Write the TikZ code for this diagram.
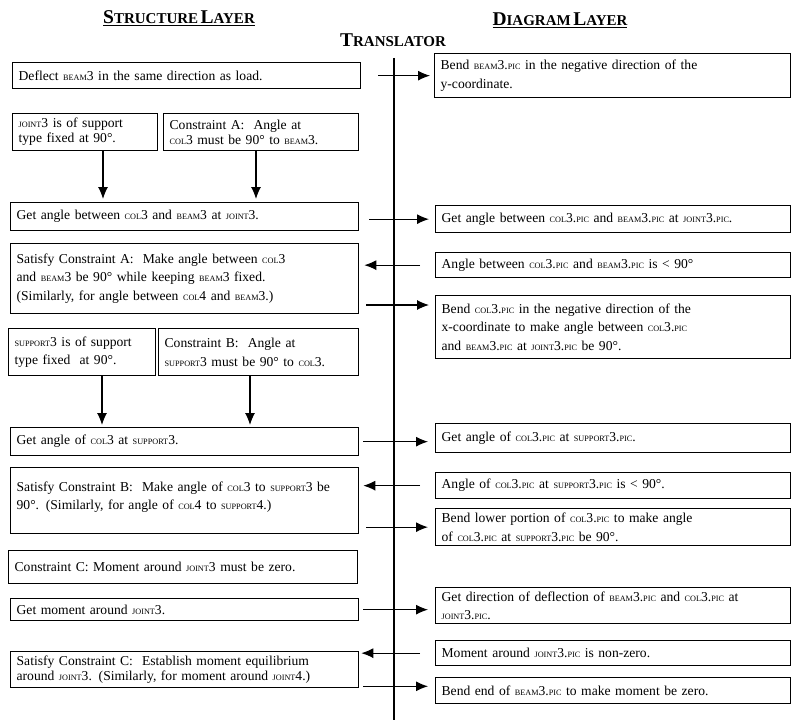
\documentclass[tikz,border=0pt]{standalone}
\usepackage{fontspec}
\setmainfont{Liberation Serif}
\usetikzlibrary{arrows.meta}
\newcommand\sk[1]{{\fontsize{8.2}{9}\selectfont #1}}
\newcommand\hsc[2]{{\fontsize{19.5}{19.5}\selectfont #1}{\fontsize{15}{15}\selectfont #2}}
\tikzset{
  box/.style={draw, line width=1.3pt, inner xsep=5pt, inner ysep=1pt, align=left, anchor=north west,
    font=\fontsize{13.6}{18.5}\selectfont},
  tight/.style={font=\fontsize{13.6}{15}\selectfont},
  head/.style={font=\bfseries, inner sep=0pt},
  arr/.style={line width=1.1pt, -{Latex[length=12pt,width=10pt]}},
  vline/.style={line width=1.1pt},
}
\begin{document}
\begin{tikzpicture}[x=1pt,y=-1pt]
\useasboundingbox (0,0) rectangle (797,725);
% headings
\node[head] (hs) at (179,18) {\underline{\hsc{S}{TRUCTURE} \hsc{L}{AYER}}};
\node[head] (ht) at (393,40) {\hsc{T}{RANSLATOR}};
\node[head] (hd) at (560,20) {\underline{\hsc{D}{IAGRAM} \hsc{L}{AYER}}};
% translator line
\coordinate (vt) at (394,58);
\coordinate (vb) at (394,720);
\draw[vline] (vt) -- (vb);
% boxes
\node[box, minimum width=348pt, minimum height=26pt, text width=336pt] (b1) at (12,62)
  {Deflect \sk{BEAM}3 in the same direction as load.};
\node[box, minimum width=356pt, minimum height=44pt, text width=344pt] (b2) at (434,53)
  {Bend \sk{BEAM}3.\sk{PIC} in the negative direction of the\\y-coordinate.};
\node[box, tight, minimum width=145pt, minimum height=37pt, text width=133pt] (b3) at (12,113)
  {\sk{JOINT}3 is of support\\type fixed at 90°.};
\node[box, tight, minimum width=195pt, minimum height=37pt, text width=183pt] (b4) at (163,113)
  {Constraint A:\ \ Angle at\\\sk{COL}3 must be 90° to \sk{BEAM}3.};
\node[box, minimum width=348pt, minimum height=28pt, text width=336pt] (b5) at (10,202)
  {Get angle between \sk{COL}3 and \sk{BEAM}3 at \sk{JOINT}3.};
\node[box, minimum width=355pt, minimum height=27pt, text width=343pt] (b6) at (435,205)
  {Get angle between \sk{COL}3.\sk{PIC} and \sk{BEAM}3.\sk{PIC} at \sk{JOINT}3.\sk{PIC}.};
\node[box, minimum width=348pt, minimum height=70pt, text width=336pt] (b7) at (10,243)
  {Satisfy Constraint A:\ \ Make angle between \sk{COL}3\\and \sk{BEAM}3 be 90° while keeping \sk{BEAM}3 fixed.\\(Similarly, for angle between \sk{COL}4 and \sk{BEAM}3.)};
\node[box, minimum width=355pt, minimum height=25pt, text width=343pt] (b8) at (435,252)
  {Angle between \sk{COL}3.\sk{PIC} and \sk{BEAM}3.\sk{PIC} is < 90°};
\node[box, minimum width=355pt, minimum height=63pt, text width=343pt] (b9) at (435,295)
  {Bend \sk{COL}3.\sk{PIC} in the negative direction of the\\x-coordinate to make angle between \sk{COL}3.\sk{PIC}\\and \sk{BEAM}3.\sk{PIC} at \sk{JOINT}3.\sk{PIC} be 90°.};
\node[box, minimum width=147pt, minimum height=47pt, text width=135pt] (b10) at (8,328)
  {\sk{SUPPORT}3 is of support\\type fixed\ \ at 90°.};
\node[box, minimum width=200pt, minimum height=47pt, text width=188pt] (b11) at (158,328)
  {Constraint B:\ \ Angle at\\\sk{SUPPORT}3 must be 90° to \sk{COL}3.};
\node[box, minimum width=348pt, minimum height=28pt, text width=336pt] (b12) at (10,427)
  {Get angle of \sk{COL}3 at \sk{SUPPORT}3.};
\node[box, minimum width=355pt, minimum height=29pt, text width=343pt] (b13) at (435,423)
  {Get angle of \sk{COL}3.\sk{PIC} at \sk{SUPPORT}3.\sk{PIC}.};
\node[box, minimum width=348pt, minimum height=66pt, text width=336pt] (b14) at (10,467)
  {Satisfy Constraint B:\ \ Make angle of \sk{COL}3 to \sk{SUPPORT}3 be\\90°. (Similarly, for angle of \sk{COL}4 to \sk{SUPPORT}4.)\\[-9pt]\mbox{}};
\node[box, minimum width=355pt, minimum height=26pt, text width=343pt] (b15) at (435,472)
  {Angle of \sk{COL}3.\sk{PIC} at \sk{SUPPORT}3.\sk{PIC} is < 90°.};
\node[box, minimum width=355pt, minimum height=37pt, text width=343pt] (b16) at (435,508)
  {Bend lower portion of \sk{COL}3.\sk{PIC} to make angle\\of \sk{COL}3.\sk{PIC} at \sk{SUPPORT}3.\sk{PIC} be 90°.};
\node[box, minimum width=349pt, minimum height=33pt, text width=337pt] (b17) at (8,550)
  {Constraint C: Moment around \sk{JOINT}3 must be zero.};
\node[box, minimum width=355pt, minimum height=36pt, text width=343pt] (b18) at (435,587)
  {Get direction of deflection of \sk{BEAM}3.\sk{PIC} and \sk{COL}3.\sk{PIC} at\\\sk{JOINT}3.\sk{PIC}.};
\node[box, minimum width=348pt, minimum height=22pt, text width=336pt] (b19) at (10,598)
  {Get moment around \sk{JOINT}3.};
\node[box, tight, minimum width=348pt, minimum height=36pt, text width=336pt] (b20) at (10,651)
  {Satisfy Constraint C:\ \ Establish moment equilibrium\\around \sk{JOINT}3. (Similarly, for moment around \sk{JOINT}4.)};
\node[box, minimum width=355pt, minimum height=25pt, text width=343pt] (b21) at (435,640)
  {Moment around \sk{JOINT}3.\sk{PIC} is non-zero.};
\node[box, minimum width=355pt, minimum height=26pt, text width=343pt] (b22) at (435,677)
  {Bend end of \sk{BEAM}3.\sk{PIC} to make moment be zero.};
% vertical arrows
\coordinate (v1) at (103,0);
\coordinate (v2) at (256,0);
\coordinate (v3) at (102,0);
\coordinate (v4) at (250,0);
\draw[arr, shorten >=3pt] (b3.south -| v1) -- (b5.north -| v1);
\draw[arr, shorten >=3pt] (b4.south -| v2) -- (b5.north -| v2);
\draw[arr, shorten >=2pt] (b10.south -| v3) -- (b12.north -| v3);
\draw[arr, shorten >=2pt] (b11.south -| v4) -- (b12.north -| v4);
% horizontal arrows
\draw[arr] ([xshift=17pt]b1.east) -- ([xshift=-4pt]b2.west |- b1.east);
\draw[arr] ([xshift=10pt]b5.east |- b6.west) -- ([xshift=-6pt]b6.west);
\draw[arr] ([xshift=-15pt]b8.west) -- ([xshift=5pt]b7.east |- b8.west);
\coordinate (a4) at ([shift={(-6,10)}]b9.north west);
\draw[arr] ([xshift=7pt]b7.east |- a4) -- (a4);
\draw[arr] ([xshift=4pt]b12.east) -- ([xshift=-7pt]b13.west |- b12.east);
\draw[arr] ([xshift=-15pt]b15.west) -- ([xshift=4pt]b14.east |- b15.west);
\draw[arr] ([xshift=7pt]b14.east |- b16.west) -- ([xshift=-7pt]b16.west);
\draw[arr] ([xshift=4pt]b19.east) -- ([xshift=-7pt]b18.west |- b19.east);
\draw[arr] ([xshift=-15pt]b21.west) -- ([xshift=2pt]b20.east |- b21.west);
\coordinate (s20) at ([shift={(4,-2)}]b20.south east);
\draw[arr] (s20) -- ([xshift=-7pt]b22.west |- s20);
\end{tikzpicture}
\end{document}
